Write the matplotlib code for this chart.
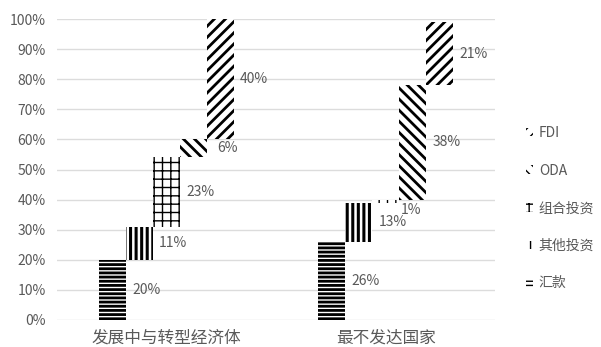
import numpy as np
import matplotlib
matplotlib.use('Agg')
import matplotlib.pyplot as plt

plt.rcParams['font.family'] = ['Noto Sans CJK SC', 'DejaVu Sans']

categories = ['发展中与转型经济体', '最不发达国家']
series = ['汇款', '其他投资', '组合投资', 'ODA', 'FDI']
remit = [20, 26]
other_inv = [11, 13]
portfolio = [23, 1]
oda = [6, 38]
fdi = [40, 21]
values = [remit, other_inv, portfolio, oda, fdi]

hatches = ['----', '|||', '++', '\\\\\\', '///']
hatch_lw = [2.0, 2.2, 1.0, 2.0, 2.0]
gray = '#595959'

fig = plt.figure(figsize=(6.01, 3.47), dpi=100)
ax = fig.add_axes([0.095, 0.078, 0.729, 0.867])

x = np.arange(len(categories))
w = 0.123
bottom = np.zeros(len(categories))
handles = []
for i, (name, vals) in enumerate(zip(series, values)):
    vals = np.array(vals, dtype=float)
    pos = x + (i - 2) * w
    with plt.rc_context({'hatch.linewidth': hatch_lw[i]}):
        bars = ax.bar(pos, vals, width=w, bottom=bottom, facecolor='white',
                      edgecolor='black', linewidth=0, hatch=hatches[i],
                      label=name, zorder=3)
    handles.append(bars)
    for p, b, v in zip(pos, bottom, vals):
        ty = b + v / 2
        if v < 3:
            # tiny segment: label sits under the next bar
            ax.annotate('%d%%' % v, (p + w * 0.95, b), xytext=(0, -5),
                        textcoords='offset points', ha='center', va='center',
                        fontsize=10, color=gray)
        else:
            ax.text(p + w * 1.25, ty, '%d%%' % v, ha='center', va='center',
                    fontsize=10, color=gray, zorder=4)
    bottom = bottom + vals

ax.set_xlim(-0.5, 1.5)
ax.set_ylim(0, 100)
ax.set_yticks(np.arange(0, 101, 10))
ax.set_yticklabels(['%d%%' % t for t in range(0, 101, 10)])
ax.set_xticks(x)
ax.set_xticklabels(categories, fontsize=12)
ax.tick_params(axis='both', length=0, colors=gray, labelsize=10)
ax.tick_params(axis='x', labelsize=12, pad=7)
ax.tick_params(axis='y', pad=8)
ax.yaxis.grid(True, color='#dcdcdc', linewidth=1, zorder=0)
for s in ax.spines.values():
    s.set_visible(False)

leg = fig.legend(handles[::-1], series[::-1], loc='center left',
                 bbox_to_anchor=(0.855, 0.40), frameon=False, fontsize=10,
                 handlelength=0.5, handleheight=0.6, handletextpad=0.4,
                 labelspacing=1.7)
for t in leg.get_texts():
    t.set_color(gray)

fig.savefig('out.png', dpi=100)
